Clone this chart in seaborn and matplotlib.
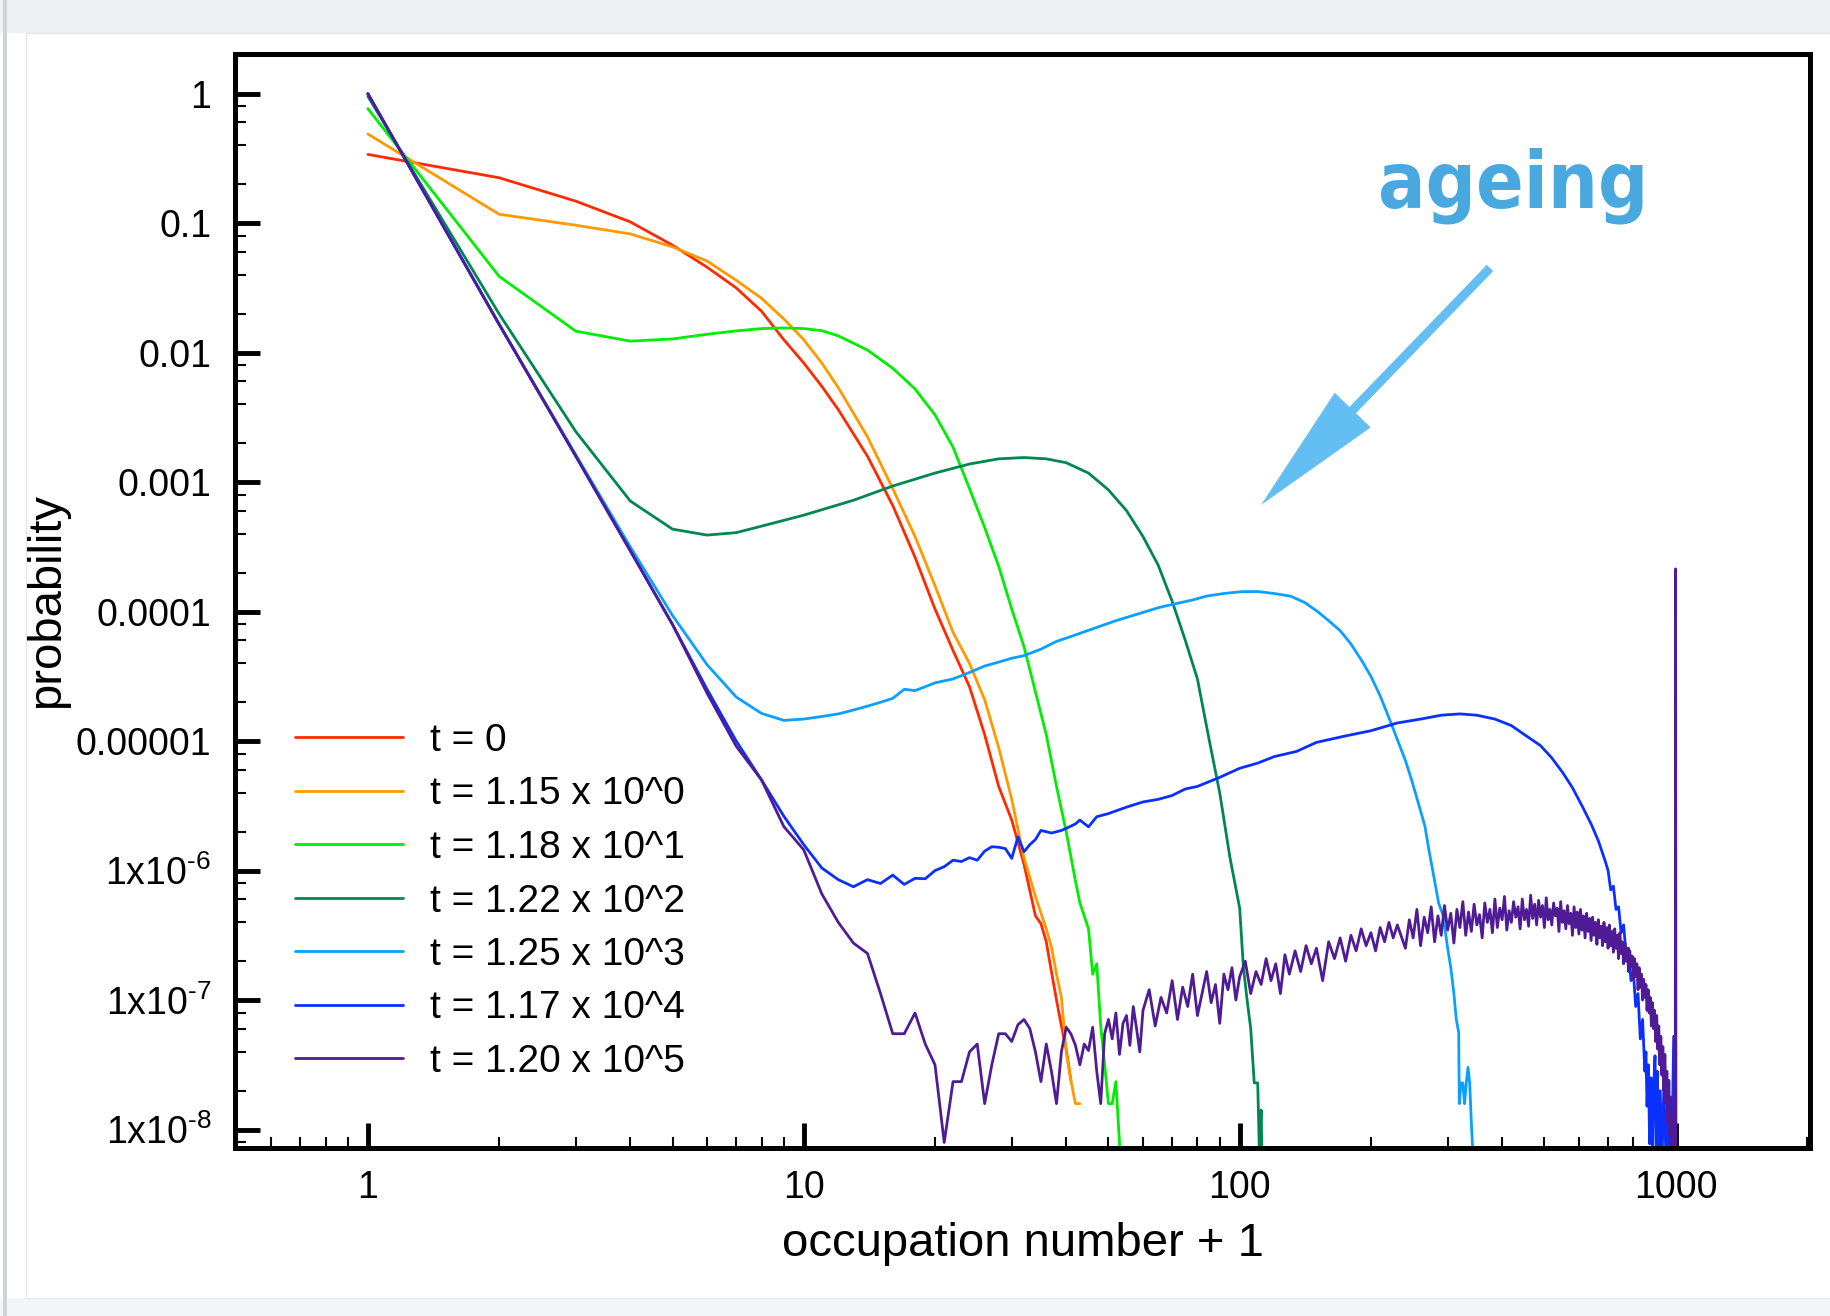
import numpy as np
import pandas as pd
import matplotlib
matplotlib.use("Agg")
import matplotlib.pyplot as plt
import seaborn as sns
from matplotlib import font_manager as fm
from matplotlib.ticker import LogLocator, FixedLocator, FixedFormatter, NullFormatter
from matplotlib.patches import Rectangle, FancyArrow

# ---------------- data (log10 of probability) ----------------
labels = ["t = 0", "t = 1.15 x 10^0", "t = 1.18 x 10^1", "t = 1.22 x 10^2",
          "t = 1.25 x 10^3", "t = 1.17 x 10^4", "t = 1.20 x 10^5"]
colors = ["#ff2a00", "#ff9900", "#00ee00", "#00874f", "#0aa0ff", "#0a30ff", "#501c96"]

n_t0 = [1, 2, 3, 4, 5, 6, 7, 8, 9, 10, 11, 12, 14, 16, 18, 20, 22, 24, 26, 28, 30, 32,
        34, 35, 36, 37, 38, 39, 40, 41]
lp_t0 = [-0.469, -0.649, -0.83, -0.99, -1.17, -1.34, -1.50, -1.68, -1.90, -2.08, -2.26,
         -2.44, -2.80, -3.18, -3.58, -3.98, -4.30, -4.58, -4.95, -5.35, -5.61, -5.95,
         -6.35, -6.41, -6.55, -6.78, -7.00, -7.20, -7.38, -7.62]

n_t1 = [1, 2, 3, 4, 5, 6, 7, 8, 9, 10, 11, 12, 14, 16, 18, 20, 22, 24, 26, 28, 30, 32,
        34, 36, 37, 38, 39, 40, 41, 42, 43]
lp_t1 = [-0.311, -0.931, -1.016, -1.083, -1.183, -1.292, -1.441, -1.58, -1.74, -1.90,
         -2.08, -2.27, -2.65, -3.05, -3.42, -3.80, -4.16, -4.40, -4.68, -5.05, -5.45,
         -5.90, -6.20, -6.45, -6.59, -6.80, -6.98, -7.40, -7.62, -7.80, -7.80]

n_t2 = [1, 2, 3, 4, 5, 6, 7, 8, 9, 10, 11, 12, 14, 16, 18, 20, 22, 24, 26, 28, 30, 32,
        34, 36, 38, 40, 42, 43, 44, 45, 46, 47, 48, 49, 50, 51, 52, 53, 54]
lp_t2 = [-0.115, -1.41, -1.834, -1.911, -1.894, -1.858, -1.832, -1.814, -1.809, -1.814,
         -1.83, -1.87, -1.98, -2.12, -2.28, -2.48, -2.73, -3.05, -3.35, -3.65, -3.98,
         -4.27, -4.62, -4.95, -5.35, -5.70, -6.08, -6.25, -6.35, -6.45, -6.80, -6.72,
         -7.20, -7.50, -7.80, -7.80, -7.63, -8.10, -8.60]

n_t3 = [1, 2, 3, 4, 5, 6, 7, 8, 10, 13, 16, 20, 24, 28, 32, 36, 40, 45, 50, 55, 60, 65,
        70, 75, 80, 85, 90, 95, 100, 102, 104, 106, 108, 110, 111, 112, 113]
lp_t3 = [-0.02, -1.70, -2.61, -3.146, -3.363, -3.409, -3.39, -3.34, -3.255, -3.14, -3.03,
         -2.93, -2.86, -2.82, -2.81, -2.82, -2.85, -2.93, -3.06, -3.22, -3.42, -3.64,
         -3.92, -4.22, -4.52, -4.98, -5.40, -5.90, -6.29, -6.75, -7.00, -7.22, -7.64,
         -7.64, -8.20, -7.85, -8.60]

n_t4 = [1, 2, 3, 4, 5, 6, 7, 8, 9, 10, 11, 12, 13, 14, 15, 16, 17, 18, 19, 20,
        22, 24, 26, 28, 30, 32, 35, 38, 42, 46, 52, 59, 65, 71, 78, 84, 92, 101, 110, 120,
        131, 141, 151, 160, 170, 180, 191, 200, 210, 220, 231, 240, 248, 257, 266, 272,
        279, 286, 293, 300, 305, 310, 314, 318, 319, 322, 325, 328, 331, 334, 337, 340,
        343, 345]
lp_t4 = [0.0, -1.78, -2.79, -3.50, -4.03, -4.41, -4.66, -4.786, -4.84, -4.83,
         -4.81, -4.79, -4.76, -4.73, -4.70, -4.67, -4.60, -4.61, -4.58, -4.55,
         -4.52, -4.47, -4.42, -4.39, -4.36, -4.34, -4.29, -4.23, -4.18, -4.133,
         -4.07, -4.014, -3.97, -3.94, -3.91, -3.88, -3.86, -3.846, -3.845, -3.86,
         -3.881, -3.93, -4.00, -4.07, -4.147, -4.25, -4.384, -4.50, -4.65, -4.82,
         -5.005, -5.15, -5.30, -5.48, -5.656, -5.85, -6.05, -6.25, -6.35, -6.60,
         -6.75, -6.95, -7.15, -7.25, -7.80, -7.64, -7.64, -7.80, -7.64, -7.52,
         -7.64, -7.95, -8.20, -8.60]

n_t5 = list(range(1, 41)) + [42, 43, 45, 47, 50, 55, 60, 65, 70, 75, 80, 90, 100, 110,
        120, 135, 150, 175, 200, 230, 260, 290, 320, 350, 385, 420, 450, 490, 520, 550,
        580, 610, 640, 665, 690, 700, 710, 720, 730, 740, 750, 760, 770, 780, 790, 800,
        810, 820, 830, 840, 850, 855, 860, 866, 872, 878, 885, 890, 897, 903, 908, 915,
        922, 930, 940, 950, 960, 970, 980, 990, 995, 1000]
lp_t5 = [0.0, -1.78, -2.80, -3.53, -4.10, -4.60, -5.00, -5.30, -5.58, -5.80,
         -5.98, -6.07, -6.125, -6.07, -6.10, -6.035, -6.107, -6.06, -6.063, -6.00,
         -5.97, -5.92, -5.93, -5.90, -5.92, -5.85, -5.816, -5.82, -5.83, -5.906,
         -5.739, -5.855, -5.80, -5.76, -5.69, -5.70, -5.71, -5.70, -5.69, -5.674,
         -5.64, -5.61, -5.662, -5.584, -5.56, -5.51, -5.47, -5.45, -5.42, -5.37, -5.35,
         -5.28, -5.21, -5.17, -5.12, -5.08, -5.01, -4.96, -4.92, -4.86, -4.83, -4.80,
         -4.79, -4.80, -4.83, -4.88, -4.95, -5.035, -5.13, -5.24, -5.36, -5.50, -5.64,
         -5.77, -5.93, -6.00, -6.15, -6.12, -6.30, -6.28, -6.48, -6.42, -6.65, -6.60,
         -6.85, -6.78, -7.05, -6.95, -7.30, -7.15, -7.55, -7.40, -7.82, -7.50, -8.11,
         -7.60, -8.20, -7.70, -7.43, -8.20, -7.55, -8.30, -7.70, -8.30, -7.65, -8.20,
         -7.80, -8.30, -8.25, -7.28, -8.30, -8.30]

n_t6 = (list(range(1, 61)) + list(range(62, 101, 2)) + list(range(103, 131, 3))
        + [134, 138, 142, 146, 150] + list(range(155, 231, 5)) + list(range(240, 981, 5))
        + [985, 990, 995, 998, 1000, 1002])
lp_t6 = [0.0, -1.78, -2.80, -3.53, -4.10, -4.63, -5.04, -5.30, -5.66, -5.84,
         -6.18, -6.40, -6.56, -6.64, -6.95, -7.26, -7.26, -7.10, -7.34, -7.50,
         -8.10, -7.63, -7.63, -7.40, -7.34, -7.80, -7.50, -7.26, -7.26, -7.32,
         -7.19, -7.15, -7.22, -7.40, -7.63, -7.34, -7.55, -7.80, -7.40, -7.21,
         -7.26, -7.35, -7.50, -7.34, -7.39, -7.21, -7.55, -7.80, -7.26, -7.15,
         -7.30, -7.10, -7.42, -7.18, -7.12, -7.35, -7.05, -7.22, -7.40, -7.08,
         # 62..100 step 2
         -6.92, -7.20, -6.98, -7.10, -6.85, -7.15, -6.90, -7.05, -6.80, -7.12,
         -6.95, -6.78, -7.02, -6.88, -7.18, -6.80, -6.92, -6.75, -7.00, -6.82,
         # 103..130 step 3
         -6.70, -6.95, -6.78, -6.88, -6.68, -6.85, -6.72, -6.95, -6.65, -6.80,
         # 134..150
         -6.62, -6.78, -6.58, -6.72, -6.60,
         # 155..230 step 5
         -6.85, -6.55, -6.68, -6.52, -6.70, -6.50, -6.62, -6.45, -6.58, -6.48,
         -6.62, -6.44, -6.55, -6.40, -6.52, -6.42,
         # 240..980 step 5
         -6.60, -6.38, -6.52, -6.30, -6.58, -6.36, -6.48, -6.28, -6.55, -6.35,
         -6.50, -6.27, -6.46, -6.33, -6.56, -6.30, -6.44, -6.24, -6.50, -6.32,
         -6.47, -6.26, -6.42, -6.34, -6.52, -6.25, -6.40, -6.30, -6.48, -6.22,
         -6.44, -6.29, -6.38, -6.20, -6.46, -6.31, -6.40, -6.24, -6.36, -6.28,
         -6.45, -6.22, -6.38, -6.30, -6.43, -6.19, -6.37, -6.26, -6.42, -6.23,
         -6.36, -6.27, -6.44, -6.21, -6.38, -6.30, -6.42, -6.25, -6.35, -6.29,
         -6.47, -6.24, -6.40, -6.31, -6.45, -6.27, -6.41, -6.33, -6.50, -6.28,
         -6.44, -6.32, -6.49, -6.30, -6.46, -6.35, -6.52, -6.33, -6.47, -6.37,
         -6.54, -6.36, -6.50, -6.40, -6.57, -6.38, -6.52, -6.43, -6.58, -6.40,
         -6.55, -6.44, -6.60, -6.42, -6.58, -6.47, -6.63, -6.45, -6.60, -6.50,
         -6.68, -6.48, -6.64, -6.55, -6.72, -6.56, -6.70, -6.60, -6.78, -6.62,
         -6.74, -6.66, -6.84, -6.68, -6.82, -6.72, -6.92, -6.75, -6.90, -6.80,
         -7.00, -6.84, -6.98, -6.88, -7.08, -6.92, -7.10, -6.98, -7.20, -7.02,
         -7.22, -7.08, -7.32, -7.12, -7.38, -7.20, -7.50, -7.28, -7.58, -7.36,
         -7.70, -7.42, -7.80, -7.55, -7.95, -7.62, -8.05, -7.75, -8.20,
         # tail and spike
         -7.90, -8.30, -8.20, -8.40, -3.67, -8.40]

series_n = [n_t0, n_t1, n_t2, n_t3, n_t4, n_t5, n_t6]
series_lp = [lp_t0, lp_t1, lp_t2, lp_t3, lp_t4, lp_t5, lp_t6]

frames = []
for lab, nn, lp in zip(labels, series_n, series_lp):
    m = min(len(nn), len(lp))
    frames.append(pd.DataFrame({"n": nn[:m], "p": 10.0 ** np.asarray(lp[:m]), "series": lab}))
df = pd.concat(frames, ignore_index=True)

# ---------------- style ----------------
sns.set_theme(style="white")
plt.rcParams["font.family"] = ["Liberation Sans", "DejaVu Sans"]
plt.rcParams["mathtext.fontset"] = "custom"
plt.rcParams["mathtext.rm"] = "Liberation Sans"
plt.rcParams["mathtext.it"] = "Liberation Sans:italic"
plt.rcParams["mathtext.bf"] = "Liberation Sans:bold"
plt.rcParams["text.color"] = "black"
plt.rcParams["axes.labelcolor"] = "black"

W, H = 1831, 1316
fig = plt.figure(figsize=(W / 100, H / 100), dpi=100)
fig.patch.set_facecolor("white")

# screenshot-like frame
fig.add_artist(Rectangle((0, 1 - 33 / H), 1, 33 / H, transform=fig.transFigure,
                         facecolor="#edf1f4", edgecolor="none", zorder=0))
fig.add_artist(Rectangle((0, 0), 1, 18 / H, transform=fig.transFigure,
                         facecolor="#f4f5f6", edgecolor="none", zorder=0))
fig.add_artist(Rectangle((3 / W, 0), 4 / W, 1, transform=fig.transFigure,
                         facecolor="#cfd3d6", edgecolor="none", zorder=0))
fig.add_artist(Rectangle((26 / W, 18 / H), 1 - 26 / W, 1 - 51 / H, transform=fig.transFigure,
                         facecolor="none", edgecolor="#e4e6e8", lw=1.0, zorder=0))

ax = fig.add_axes([235 / W, 1 - 1148 / H, (1810 - 235) / W, (1148 - 54) / H])
ax.set_xscale("log")
ax.set_yscale("log")

sns.lineplot(data=df, x="n", y="p", hue="series", hue_order=labels,
             palette=dict(zip(labels, colors)), estimator=None, sort=False,
             linewidth=2.0, ax=ax)

ax.set_xlim(0.4957, 2034)
ax.set_ylim(7.2e-9, 2.026)

# ticks
ax.xaxis.set_major_locator(FixedLocator([1, 10, 100, 1000]))
ax.xaxis.set_major_formatter(FixedFormatter(["1", "10", "100", "1000"]))
ax.xaxis.set_minor_locator(LogLocator(base=10, subs=np.arange(2, 10), numticks=60))
ax.xaxis.set_minor_formatter(NullFormatter())
yt = [1, 0.1, 0.01, 0.001, 1e-4, 1e-5, 1e-6, 1e-7, 1e-8]
ytl = ["1", "0.1", "0.01", "0.001", "0.0001", "0.00001",
       r"$\mathrm{1x10}^{\text{-6}}$", r"$\mathrm{1x10}^{\text{-7}}$",
       r"$\mathrm{1x10}^{\text{-8}}$"]
ax.yaxis.set_major_locator(FixedLocator(yt))
ax.yaxis.set_major_formatter(FixedFormatter(ytl))
ax.yaxis.set_minor_locator(LogLocator(base=10, subs=[2, 4, 6, 8], numticks=60))
ax.yaxis.set_minor_formatter(NullFormatter())

ax.tick_params(which="both", direction="in", top=False, right=False, left=True,
               bottom=True, color="black", labelcolor="black")
ax.tick_params(which="major", length=18, width=3.5, labelsize=27)
ax.tick_params(which="minor", length=8, width=1.5)
ax.tick_params(axis="x", which="major", pad=16)
ax.tick_params(axis="y", which="major", pad=17)

for s in ax.spines.values():
    s.set_visible(True)
    s.set_color("black")
    s.set_linewidth(3.6)

ax.set_xlabel("occupation number + 1", fontsize=34, labelpad=11)
ax.set_ylabel("probability", fontsize=34, labelpad=5)
ax.grid(False)

# legend
handles, lbls = ax.get_legend_handles_labels()
for h in handles:
    h.set_linewidth(2.0)
ax.legend(handles, lbls, loc="upper left", bbox_to_anchor=(295 / W, 1 - 723 / H),
          bbox_transform=fig.transFigure, frameon=False, fontsize=28,
          handlelength=2.78, handletextpad=0.69, labelspacing=0.45,
          borderpad=0, borderaxespad=0)

# annotation text: prefer a condensed bold face, fit to the reference width
narrow = None
for f in fm.fontManager.ttflist:
    nm = f.name.lower()
    st = str(f.stretch).lower()
    w = f.weight
    wnum = w if isinstance(w, (int, float)) else (700 if "bold" in str(w).lower() else 400)
    if ("narrow" in nm or "condensed" in nm or "condensed" in st) and wnum >= 600:
        narrow = f.fname
        break
if narrow is not None:
    fp = fm.FontProperties(fname=narrow)
else:
    fp = fm.FontProperties(family="DejaVu Sans", weight="bold")
fp.set_size(75)
t_age = fig.text(1513 / W, 1 - 208 / H, "ageing", ha="center", va="baseline",
                 color="#49a9df", fontproperties=fp)
fig.canvas.draw()
bb = t_age.get_window_extent(renderer=fig.canvas.get_renderer())
if bb.width > 0:
    fp.set_size(75 * 271.0 / bb.width)
    t_age.set_fontproperties(fp)

fig.add_artist(FancyArrow(1490 / 100, (H - 268) / 100, -2.29, -2.37,
                          width=0.09, head_width=0.50, head_length=1.32,
                          length_includes_head=True, color="#63bff3", lw=0,
                          transform=fig.dpi_scale_trans))

fig.savefig("out.png", dpi=100)
